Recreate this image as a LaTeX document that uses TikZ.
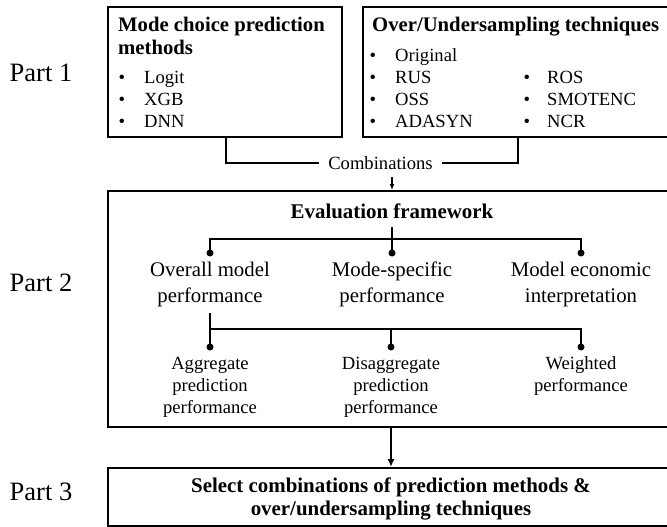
\documentclass[tikz,border=0pt]{standalone}
\usepackage{fontspec}
\setmainfont{Liberation Serif}
\usepackage{tikz}
\usetikzlibrary{arrows.meta, positioning, calc}
\tikzset{
    partlabel/.style={font=\fontsize{26.5}{30}\selectfont, inner sep=0pt},
    framebox/.style={rectangle, draw, line width=2pt, inner sep=0pt},
    boxtitle/.style={font=\fontsize{20.7}{23}\selectfont\bfseries, anchor=base west, inner sep=0pt},
    listitem/.style={font=\fontsize{18.6}{22}\selectfont, anchor=base west, inner sep=0pt},
    bulletmark/.style={font=\fontsize{18.6}{22}\selectfont, anchor=base, inner sep=0pt},
    toplevel/.style={font=\fontsize{20.8}{26}\selectfont, align=center, inner sep=0pt},
    sublevel/.style={font=\fontsize{18.6}{22}\selectfont, align=center, inner sep=0pt},
    treeline/.style={line width=1.3pt},
    branchdot/.style={circle, fill, inner sep=0pt, minimum size=7pt},
    smallarrow/.style={-{Latex[length=6pt, width=5pt]}, line width=1.3pt},
    flowarrow/.style={-{Latex[length=8pt, width=7pt]}, line width=1.8pt}
}

\begin{document}
\begin{tikzpicture}[x=1pt, y=-1pt]
\useasboundingbox (0,0) rectangle (667,527);

% part labels
\node[partlabel] (part1) at (41,73) {Part 1};
\node[partlabel] (part2) at (41,283) {Part 2};
\node[partlabel] (part3) at (41,492) {Part 3};

% part 1
\node[framebox, minimum width=234, minimum height=130] (methods) at (225,72) {};
\node[framebox, minimum width=327, minimum height=130] (sampling) at (526.5,72) {};

\node[boxtitle] (methtitle) at (118,32) {Mode choice prediction};
\node[boxtitle] (methtitle2) at (118,54.5) {methods};
\foreach \name/\txt/\y in {logit/Logit/83.5, xgb/XGB/105.5, dnn/DNN/127.5} {
    \node[bulletmark] (b-\name) at (122,\y) {\textbullet};
    \node[listitem] (\name) at (144,\y) {\txt};
}

\node[boxtitle] (samptitle) at (372,32) {Over/Undersampling techniques};
\foreach \name/\txt/\y in {orig/Original/61.5, rus/RUS/83.5, oss/OSS/105.5, adasyn/ADASYN/127.5} {
    \node[bulletmark] (b-\name) at (373,\y) {\textbullet};
    \node[listitem] (\name) at (395,\y) {\txt};
}
\foreach \name/\txt/\y in {ros/ROS/83.5, smote/SMOTENC/105.5, ncr/NCR/127.5} {
    \node[bulletmark] (b-\name) at (527,\y) {\textbullet};
    \node[listitem] (\name) at (547,\y) {\txt};
}

\node[font=\fontsize{18.6}{22}\selectfont, inner xsep=9pt, inner ysep=0pt] (comb) at (380.5,163) {Combinations};
\coordinate (m-out) at (226,137);
\coordinate (s-out) at (518,137);
\draw[treeline] (m-out) |- (comb.west);
\draw[treeline] (comb.east) -| (s-out);

% part 2
\node[framebox, minimum width=582, minimum height=236] (eval) at (399,309) {};
\coordinate (c-down) at (392,177);
\draw[smallarrow] (c-down) -- (c-down |- eval.north);

\node[font=\fontsize{20.9}{23}\selectfont\bfseries, inner sep=0pt] (evtitle) at (392,211) {Evaluation framework};
\coordinate (ev-top) at (392,227);
\coordinate (ev-split) at (392,239);

\node[branchdot] (dot-overall) at (210,253) {};
\node[branchdot] (dot-mode) at (392,253) {};
\node[branchdot] (dot-econ) at (581,253) {};
\draw[treeline] (ev-top) -- (dot-mode.center);
\draw[treeline] (dot-overall.center) |- (ev-split) -| (dot-econ.center);

\node[toplevel] (overall) at (210,284) {Overall model\\performance};
\node[toplevel] (modespec) at (392,284) {Mode-specific\\performance};
\node[toplevel] (econ) at (581,284) {Model economic\\interpretation};

\coordinate (ov-bot) at (210,313);
\coordinate (sub-split) at (210,329);
\node[branchdot] (dot-agg) at (210,347) {};
\node[branchdot] (dot-disagg) at (391,347) {};
\node[branchdot] (dot-weight) at (581,347) {};
\draw[treeline] (ov-bot) -- (dot-agg.center);
\draw[treeline] (sub-split) -| (dot-weight.center);
\draw[treeline] (dot-disagg.center |- sub-split) -- (dot-disagg.center);

\node[sublevel] (agg) at (210,387) {Aggregate\\prediction\\performance};
\node[sublevel] (disagg) at (391,387) {Disaggregate\\prediction\\performance};
\node[sublevel] (weight) at (581,376) {Weighted\\performance};

% part 3
\node[framebox, minimum width=582, minimum height=58] (select) at (399,497) {};
\node[font=\fontsize{20.9}{23}\selectfont\bfseries, align=center, inner sep=0pt] (seltext) at (391,499) {Select combinations of prediction methods \&\\over/undersampling techniques};
\draw[flowarrow] (eval.south -| dot-disagg) -- (select.north -| dot-disagg);

\end{tikzpicture}
\end{document}
